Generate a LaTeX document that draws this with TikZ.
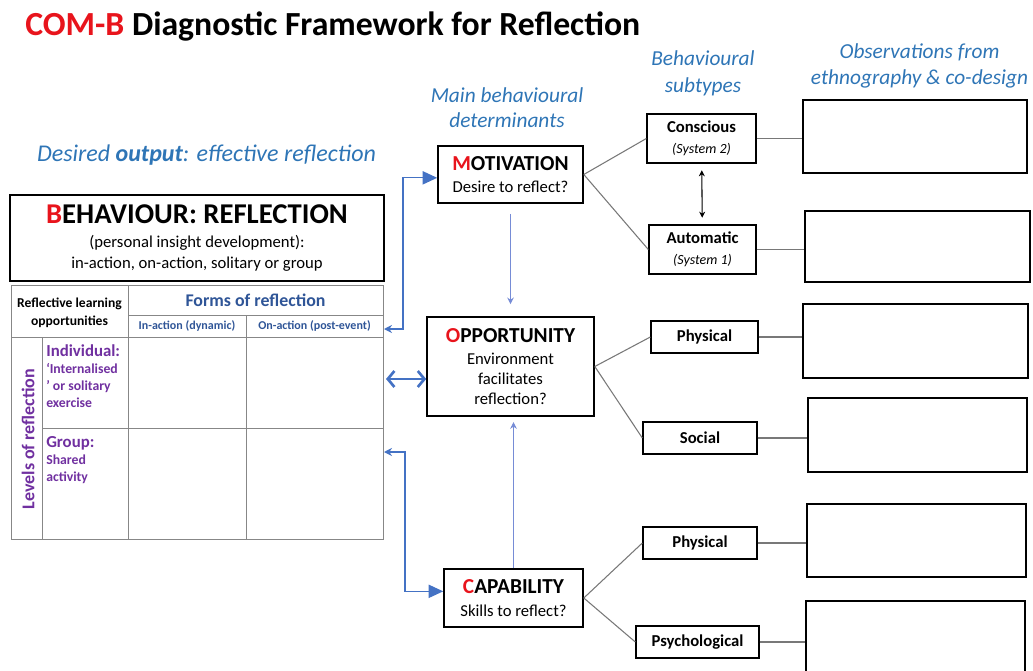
\documentclass[tikz,border=0pt]{standalone}
\usepackage{fontspec}
\setmainfont{Carlito}
\usetikzlibrary{arrows.meta,positioning}

\definecolor{combred}{RGB}{232,20,28}
\definecolor{hdrblue}{RGB}{46,117,182}
\definecolor{tabblue}{RGB}{47,85,151}
\definecolor{arrblue}{RGB}{68,114,196}
\definecolor{thinblue}{RGB}{118,140,214}
\definecolor{lvlpurple}{RGB}{112,48,160}
\definecolor{linegray}{RGB}{120,120,120}
\definecolor{tabgray}{RGB}{135,135,135}

\begin{document}
\begin{tikzpicture}[x=0.75pt,y=-0.75pt,every node/.style={inner sep=0pt},
    box/.style={draw,line width=1.2pt,align=center},
    det node/.style={box,font=\fontsize{12.5}{15}\selectfont},
    sub node/.style={box,line width=1pt,font=\fontsize{12.5}{14}\selectfont\bfseries},
    obs node/.style={draw,line width=1pt,minimum width=168pt,minimum height=55pt},
    head/.style={text=hdrblue,align=center,font=\fontsize{16}{19.5}\selectfont\itshape},
    lvl/.style={text=lvlpurple,align=left,anchor=west,font=\fontsize{10.3}{12.6}\selectfont\bfseries},
    tabline/.style={draw=tabgray,line width=0.6pt},
    link/.style={draw=linegray,line width=0.8pt},
    feed/.style={draw=arrblue,line width=0.9pt},
    thinfeed/.style={draw=thinblue,line width=0.7pt}]

  \useasboundingbox (0,0) rectangle (1033,671);

  \node[anchor=west,font=\fontsize{25.3}{30}\selectfont\bfseries] (title) at (25,26)
    {\textcolor{combred}{COM-B} Diagnostic Framework for Reflection};

  % column headings
  \node[head,font=\fontsize{18}{21}\selectfont\itshape] (outhd) at (206.5,155) {Desired \textbf{output}: effective reflection};
  \node[head] (mainhd) at (507,107.5) {Main behavioural\\[-0.5pt]determinants};
  \node[head] (subhd) at (703,73.5) {Behavioural\\[1pt]subtypes};
  \node[head] (obshd) at (919.5,66) {Observations from\\[0.5pt]ethnography \& co-design};

  \node[box,line width=1.5pt,minimum width=280.5pt,minimum height=64.5pt,font=\fontsize{12.5}{15.75}\selectfont] (beh) at (197,238)
    {{\fontsize{21.5}{24}\selectfont\bfseries\textcolor{combred}{B}EHAVIOUR: REFLECTION}\\[2.5pt](personal insight development):\\in-action, on-action, solitary or group};

  % reflection table
  \draw[tabline] (11,285) rectangle (383,539);
  \draw[tabline] (128,285) -- (128,539) (246,315) -- (246,539) (128,315) -- (383,315)
    (11,337) -- (383,337) (42,337) -- (42,539) (42,428) -- (383,428);
  \node[align=center,font=\fontsize{10.2}{13.5}\selectfont\bfseries] (rlo) at (69.5,313) {Reflective learning\\opportunities};
  \node[text=tabblue,font=\fontsize{13.4}{16}\selectfont\bfseries] (forms) at (255.5,300) {Forms of reflection};
  \node[text=tabblue,font=\fontsize{9}{11}\selectfont\bfseries] (inact) at (187,326) {In-action (dynamic)};
  \node[text=tabblue,font=\fontsize{9}{11}\selectfont\bfseries] (onact) at (314.5,326) {On-action (post-event)};
  \node[text=lvlpurple,rotate=90,font=\fontsize{13.5}{16}\selectfont\bfseries] (levels) at (28,439) {Levels of reflection};
  \node[lvl] (indiv) at (46,376) {{\fontsize{12.6}{15}\selectfont Individual:}\\‘Internalised\\’ or solitary\\exercise};
  \node[lvl] (group) at (46,460) {{\fontsize{12.6}{15}\selectfont Group:}\\Shared\\activity};
  \coordinate (tabA) at (384,329);
  \coordinate (tabB) at (386,379);
  \coordinate (tabC) at (384,452);

  % COM determinants
  \node[det node,minimum width=108.75pt,minimum height=42.75pt] (mot) at (510.5,174.5)
    {{\fontsize{16}{19}\selectfont\bfseries\textcolor{combred}{M}OTIVATION}\\[2pt]Desire to reflect?};
  \node[det node,minimum width=125.25pt,minimum height=74.25pt] (opp) at (510.5,366.5)
    {{\fontsize{16}{19}\selectfont\bfseries\textcolor{combred}{O}PPORTUNITY}\\[2pt]Environment\\facilitates\\reflection?};
  \node[det node,minimum width=104.25pt,minimum height=43.5pt] (cap) at (513.5,598)
    {{\fontsize{16}{19}\selectfont\bfseries\textcolor{combred}{C}APABILITY}\\[2pt]Skills to reflect?};

  % subtypes
  \node[sub node,minimum width=81.75pt,minimum height=36.75pt] (cons) at (701.5,138.5)
    {Conscious\\[1.5pt]{\fontsize{10.5}{12}\selectfont\mdseries\itshape (System 2)}};
  \node[sub node,minimum width=80.25pt,minimum height=36.75pt] (auto) at (702.5,249.5)
    {Automatic\\[1.5pt]{\fontsize{10.5}{12}\selectfont\mdseries\itshape (System 1)}};
  \node[sub node,minimum width=80.25pt,minimum height=24pt] (physo) at (704.5,337) {Physical};
  \node[sub node,minimum width=85.5pt,minimum height=24pt] (social) at (700,438) {Social};
  \node[sub node,minimum width=85.5pt,minimum height=24pt] (physc) at (700,543) {Physical};
  \node[sub node,minimum width=92.25pt,minimum height=24pt] (psych) at (697.5,642) {Psychological};

  % observation boxes
  \node[obs node,minimum height=54.75pt] (obs1) at (915,136.5) {};
  \node[obs node,minimum width=168.75pt,minimum height=53.25pt] (obs2) at (917.5,246.5) {};
  \node[obs node,minimum width=168.75pt,minimum height=55.5pt] (obs3) at (915.5,341) {};
  \node[obs node,minimum width=164.25pt,minimum height=55.5pt] (obs4) at (917.5,435) {};
  \node[obs node,minimum width=164.25pt,minimum height=54.75pt] (obs5) at (916.5,540.5) {};
  \node[obs node,minimum width=164.25pt,minimum height=59.25pt] (obs6) at (915.5,640.5) {};

  \path[link]
    (mot.east) edge (cons.west) edge (auto.west)
    (opp.east) edge (physo.west) edge (social.west)
    (cap.east) edge (physc.west) edge (psych.west)
    (cons.east) edge (cons.east -| obs1.west)
    (auto.east) edge (auto.east -| obs2.west)
    (physo.east) edge (physo.east -| obs3.west)
    (social.east) edge (social.east -| obs4.west)
    (physc.east) edge (physc.east -| obs5.west)
    (psych.east) edge (psych.east -| obs6.west);

  \draw[line width=0.8pt,{Stealth[length=4.5pt,width=4.5pt]}-{Stealth[length=4.5pt,width=4.5pt]},shorten <=5pt,shorten >=5pt] (cons) -- (auto);

  \draw[feed,{Stealth[length=6pt,width=6pt]}-{Triangle[length=11pt,width=10pt]}] (tabA) -- ++(19,0) |- ([yshift=-2.5pt]mot.west);
  \draw[feed,{Stealth[length=6pt,width=6pt]}-{Triangle[length=11pt,width=10pt]}] (tabC) -- ++(21,0) |- ([yshift=5pt]cap.west);
  \draw[feed,line width=2pt,{Straight Barb[length=5pt,width=12pt]}-{Straight Barb[length=5pt,width=12pt]}] (tabB) -- (tabB -| opp.west);
  \draw[thinfeed,-{Stealth[length=5pt,width=5pt]},shorten <=7.5pt,shorten >=9pt] (mot) -- (opp);
  \draw[thinfeed,-{Stealth[length=5pt,width=5pt]},shorten >=4pt] (cap.north) -- (cap.north |- opp.south);
\end{tikzpicture}
\end{document}
